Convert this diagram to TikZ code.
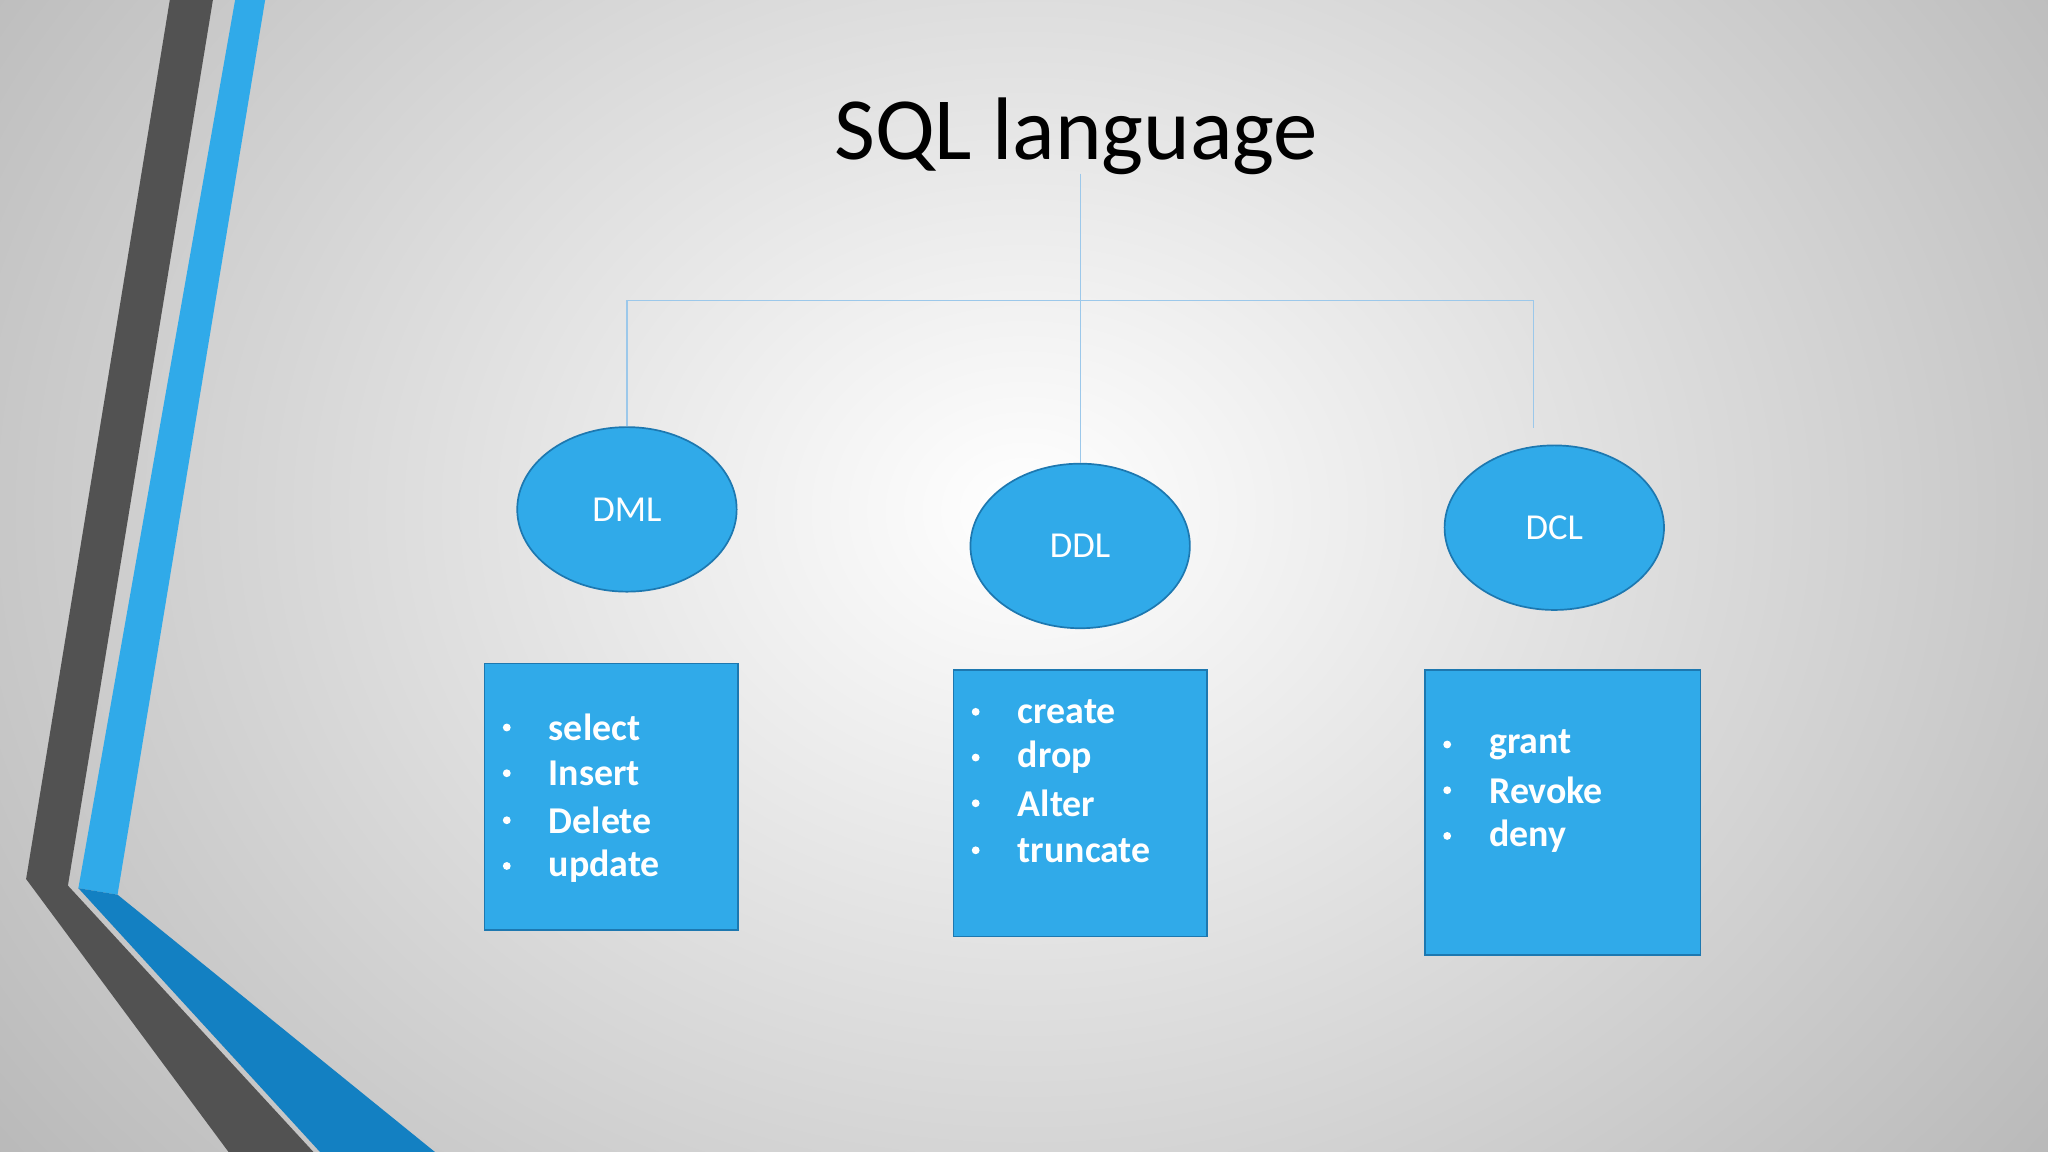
\documentclass[tikz,border=0pt]{standalone}
\usepackage{fontspec}
\setmainfont{Carlito}
\usetikzlibrary{shapes.geometric}
\definecolor{fillb}{HTML}{30AAE9}
\definecolor{edgeb}{HTML}{1D78B0}
\definecolor{lineb}{HTML}{9CC8EA}
\definecolor{darkb}{HTML}{1380C2}
\begin{document}
\begin{tikzpicture}[x=1pt,y=-1pt,
  ell/.style={draw=edgeb,line width=1.3pt,fill=fillb,ellipse,minimum width=168pt,minimum height=126pt,text=white,font=\fontsize{28}{30}\selectfont},
  boxb/.style={draw=edgeb,line width=1.3pt,fill=fillb},
  item/.style={anchor=west,text=white,font=\bfseries\fontsize{29}{30}\selectfont,inner sep=0pt},
  bul/.style={circle,fill=white,inner sep=0pt,minimum size=6pt},
  conn/.style={draw=lineb,line width=1pt}]
\useasboundingbox (0,0) rectangle (1568,882);
\begin{scope}
\clip (0,0) rectangle (1568,882);
\shade[inner color=white,outer color=black!30] (-300,-500) rectangle (1868,1282);
\end{scope}
% stripes
\fill[black!68] (130,0)--(163,0)--(52,678)--(240,882)--(175,882)--(20,673)--cycle;
\fill[fillb] (180,0)--(203,0)--(90,685)--(60,680)--cycle;
\fill[darkb] (60,680)--(90,685)--(333,882)--(245,882)--cycle;
% title
\node (title) at (824,104) {\fontsize{68}{70}\selectfont SQL language};
% ellipses
\node[ell] (dml) at (480,390) {DML};
\node[ell] (ddl) at (827,418) {DDL};
\node[ell] (dcl) at (1190,404) {DCL};
% connectors
\coordinate (top) at (827,133);
\coordinate (jl) at (480,230);
\coordinate (jr) at (1174,230);
\coordinate (rend) at (1174,328);
\draw[conn] (top) -- (ddl.north);
\draw[conn] (jl) -- (jr);
\draw[conn] (jl) -- (dml.north);
\draw[conn] (jr) -- (rend);
% boxes
\draw[boxb] (371,508) rectangle (565,712);
\draw[boxb] (730,513) rectangle (924,717);
\draw[boxb] (1091,513) rectangle (1302,731);
\foreach \t/\y in {select/557,Insert/592,Delete/628,update/663}{
  \node[bul] at (388,\y) {}; \node[item] at (420,\y) {\t};}
\foreach \t/\y in {create/545,drop/580,Alter/615,truncate/651}{
  \node[bul] at (747,\y) {}; \node[item] at (779,\y) {\t};}
\foreach \t/\y in {grant/570,Revoke/605,deny/640}{
  \node[bul] at (1108,\y) {}; \node[item] at (1140,\y) {\t};}
\end{tikzpicture}
\end{document}
